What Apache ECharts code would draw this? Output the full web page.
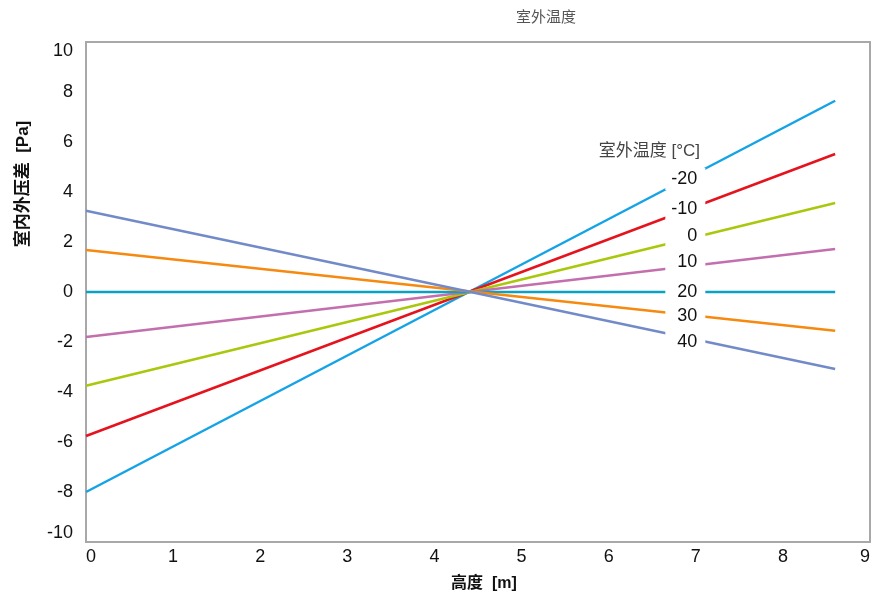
<!DOCTYPE html>
<html><head><meta charset="utf-8">
<script src="https://cdn.jsdelivr.net/npm/echarts@6/dist/echarts.min.js"></script>
<style>html,body{margin:0;padding:0;background:#fff}#c{width:880px;height:597px}</style>
</head><body><div id="c"></div>
<script>
var heights = [0, 8.6];
var temps = ['-20', '-10', '0', '10', '20', '30', '40'];
var startValues = [-8.0, -5.76, -3.75, -1.8, 0, 1.68, 3.25];
var endValues = [7.65, 5.52, 3.56, 1.72, 0, -1.55, -3.08];
var labelX = 6.88;
var labelValues = [4.52, 3.32, 2.24, 1.2, 0, -0.96, -2.0];
var colors = ['#15a3e6', '#e5131d', '#a9c80c', '#c36fae', '#0aa2c2', '#f6890f', '#728bc8'];
var xTicks = [0,1,2,3,4,5,6,7,8,9];
var yTicks = [-10,-8,-6,-4,-2,0,2,4,6,8,10];

var FONT = "'Liberation Sans', 'Noto Sans CJK SC', sans-serif";
var series = temps.map(function (t, i) {
  return {
    name: t,
    type: 'line',
    symbol: 'none',
    lineStyle: { width: 2.5, color: colors[i] },
    itemStyle: { color: colors[i] },
    data: [[heights[0], startValues[i]], [heights[1], endValues[i]]],
    markPoint: {
      symbol: 'rect',
      symbolSize: [40, 22],
      itemStyle: { color: '#fff' },
      label: {
        show: true, position: 'inside', offset: [-4, 0],
        formatter: '{a|' + t + '}',
        rich: { a: { width: 32, align: 'right', fontSize: 18, color: '#111', fontFamily: FONT } }
      },
      data: [{ coord: [labelX, labelValues[i]], name: t }]
    }
  };
});

var chart = echarts.init(document.getElementById('c'));
chart.setOption({
  animation: false,
  backgroundColor: '#fff',
  grid: { left: 86, right: 10, top: 42, bottom: 55, show: true, borderColor: '#a8a8a8', borderWidth: 2, backgroundColor: 'transparent' },
  xAxis: {
    type: 'value', min: xTicks[0], max: xTicks[xTicks.length - 1], interval: 1,
    axisLine: { show: false }, axisTick: { show: false }, splitLine: { show: false },
    axisLabel: { fontSize: 18, color: '#111', fontFamily: FONT, margin: 6, alignMinLabel: 'left', alignMaxLabel: 'right' }
  },
  yAxis: {
    type: 'value', min: yTicks[0], max: yTicks[yTicks.length - 1], interval: 2,
    axisLine: { show: false }, axisTick: { show: false }, splitLine: { show: false },
    axisLabel: { fontSize: 18, color: '#111', fontFamily: FONT, margin: 13, verticalAlignMinLabel: 'bottom', verticalAlignMaxLabel: 'top' }
  },
  graphic: [
    { type: 'text', x: 546, y: 16, style: { text: '室外温度', fontSize: 15, fill: '#555', align: 'center', verticalAlign: 'middle', fontFamily: "'Noto Sans CJK SC', sans-serif" } },
    { type: 'text', x: 700, y: 151, style: { text: '室外温度 [°C]', fontSize: 17, fill: '#444', align: 'right', verticalAlign: 'middle', fontFamily: FONT } },
    { type: 'text', x: 484, y: 584, style: { text: '高度  [m]', fontSize: 16, fontWeight: 'bold', fill: '#111', align: 'center', verticalAlign: 'middle', fontFamily: FONT } },
    { type: 'text', x: 23, y: 184, rotation: Math.PI / 2, style: { text: '室内外压差  [Pa]', fontSize: 17, fontWeight: 'bold', fill: '#111', align: 'center', verticalAlign: 'middle', fontFamily: FONT } }
  ],
  series: series
});
</script></body></html>
